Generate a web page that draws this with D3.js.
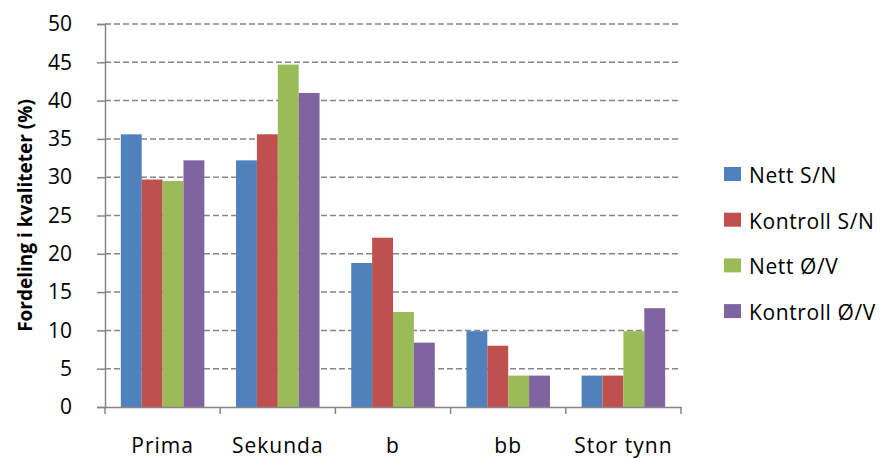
<!DOCTYPE html>
<html><head><meta charset="utf-8">
<script src="https://cdn.jsdelivr.net/npm/d3@7"></script>
<style>body{margin:0;background:#fff}svg{display:block}text{font-family:"Open Sans",sans-serif;fill:#000}</style>
</head><body><svg id="c" width="882" height="459"></svg>
<script>
const categories = ["Prima","Sekunda","b","bb","Stor tynn"];
const seriesNames = ["Nett S/N","Kontroll S/N","Nett Ø/V","Kontroll Ø/V"];
const nettSN = [35.6, 32.2, 18.8, 9.9, 4.1];
const kontrollSN = [29.7, 35.6, 22.1, 8.0, 4.1];
const nettOV = [29.5, 44.7, 12.4, 4.1, 9.9];
const kontrollOV = [32.2, 41.0, 8.4, 4.1, 12.9];
const colors = ["#4F81BD","#C0504D","#9BBB59","#8064A2"];
const yTicks = [0,5,10,15,20,25,30,35,40,45,50];
const yTitle = "Fordeling i kvaliteter (%)";

const series = [nettSN, kontrollSN, nettOV, kontrollOV];
const svg = d3.select("#c");
const L = 105, R = 681, T = 24, B = 407;
const x = d3.scaleBand().domain(categories).range([L, R]).paddingInner(0).paddingOuter(0);
const y = d3.scaleLinear().domain([0, 50]).range([B, T]);
const groupW = x.bandwidth() * 0.725;
const x1 = d3.scaleBand().domain(d3.range(series.length)).range([0, groupW]);

// gridlines
svg.append("g").selectAll("line").data(yTicks.filter(d => d > 0)).join("line")
  .attr("x1", L).attr("x2", R).attr("y1", d => y(d)).attr("y2", d => y(d))
  .attr("stroke", "#868686").attr("stroke-width", 1.5).attr("stroke-dasharray", "6,3");

// bars
series.forEach((s, si) => {
  svg.append("g").selectAll("rect").data(s).join("rect")
    .attr("x", (d, i) => x(categories[i]) + (x.bandwidth() - groupW) / 2 + x1(si))
    .attr("width", x1.bandwidth())
    .attr("y", d => y(d)).attr("height", d => B - y(d))
    .attr("fill", colors[si]);
});

// y axis
const yAxis = svg.append("g").attr("transform", `translate(${L},0)`)
  .call(d3.axisLeft(y).tickValues(yTicks).tickSize(8).tickPadding(25));
yAxis.select(".domain").attr("stroke", "#868686").attr("stroke-width", 1.5);
yAxis.selectAll(".tick line").attr("stroke", "#868686").attr("stroke-width", 1.5);
yAxis.selectAll("text").attr("font-size", 21).attr("font-family", "Open Sans").attr("fill", "#000");

// x axis
const xAxis = svg.append("g").attr("transform", `translate(0,${B})`)
  .call(d3.axisBottom(x).tickSize(0).tickPadding(31));
xAxis.select(".domain").attr("stroke", "#868686").attr("stroke-width", 1.5);
xAxis.selectAll("text").attr("font-size", 21).attr("font-family", "Open Sans").attr("fill", "#000").attr("letter-spacing", "1px");
const bounds = categories.map(c => x(c)).concat([R]);
xAxis.append("g").selectAll("line").data(bounds).join("line")
  .attr("x1", d => d).attr("x2", d => d).attr("y1", 0).attr("y2", 7)
  .attr("stroke", "#868686").attr("stroke-width", 1.5);

// y title
svg.append("text").attr("transform", `translate(32,${(T+B)/2}) rotate(-90)`)
  .attr("text-anchor", "middle").attr("font-size", 19).attr("font-weight", "bold")
  .text(yTitle);

// legend
const lg = svg.append("g");
seriesNames.forEach((n, i) => {
  const yy = 167 + i * 45.7;
  lg.append("rect").attr("x", 724).attr("y", yy).attr("width", 17).attr("height", 14).attr("fill", colors[i]);
  lg.append("text").attr("x", 749).attr("y", yy + 16).attr("font-size", 21).attr("letter-spacing", "0.6px").text(n);
});
</script></body></html>
